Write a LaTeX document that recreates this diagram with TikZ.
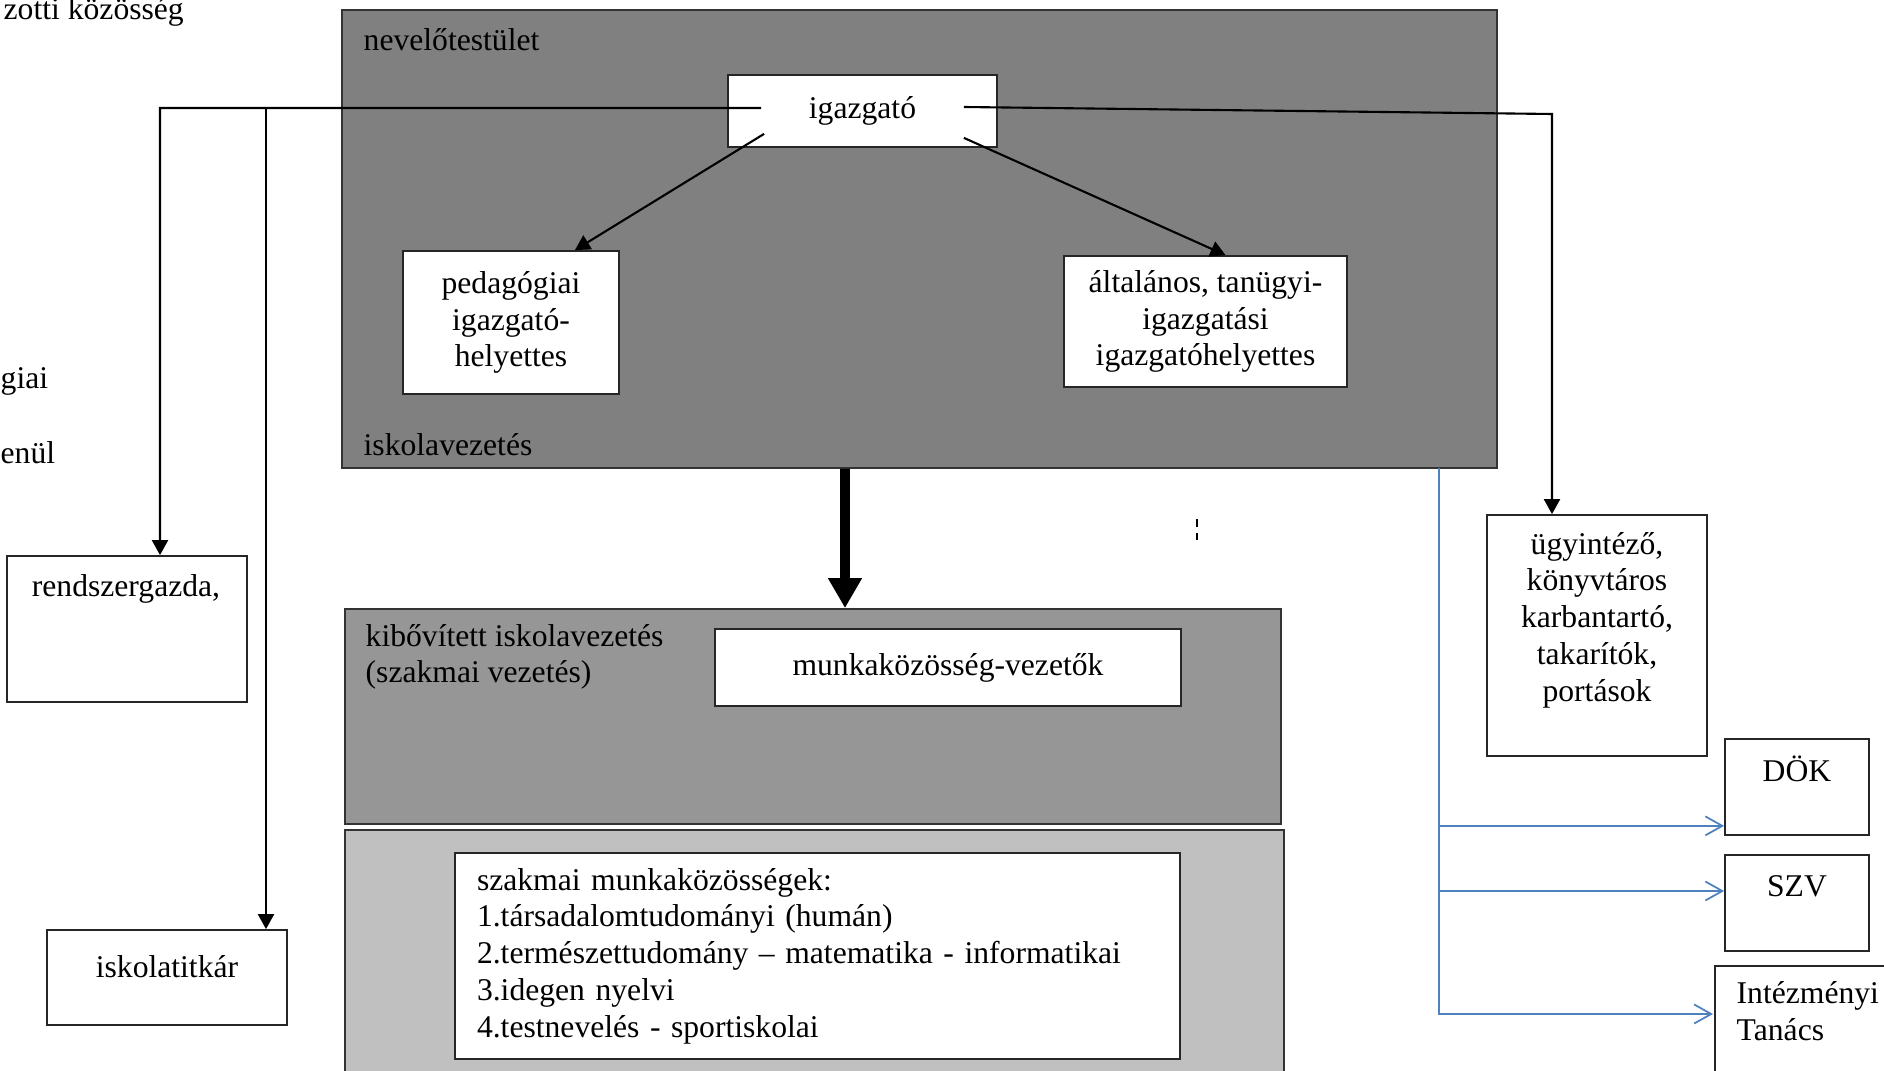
\documentclass[tikz,border=0pt]{standalone}
\usepackage{fontspec}
\setmainfont{Liberation Serif}
\usetikzlibrary{arrows.meta,positioning}
\definecolor{upperpanel}{HTML}{808080}
\definecolor{midpanel}{HTML}{969696}
\definecolor{lowpanel}{HTML}{C0C0C0}
\definecolor{lineblue}{HTML}{4F81BD}

\begin{document}
\begin{tikzpicture}[
        font=\fontsize{9}{10.45}\selectfont,
        x=1cm, y=1cm,
        panel/.style  ={draw=black!80, line width=0.5pt, inner sep=0pt},
        box/.style    ={draw=black!85, fill=white, line width=0.5pt, inner sep=0pt, align=center},
        lbl/.style    ={inner sep=0pt},
        arr/.style    ={-{Triangle[length=1.5mm,width=1.6mm]}, line width=0.6pt},
        bigarr/.style ={-{Triangle[length=3mm,width=3.2mm]}, line width=2.8pt},
        bluearr/.style={-{Straight Barb[length=1.7mm,width=1.9mm]}, draw=lineblue, line width=0.5pt},
    ]
    \useasboundingbox (0,0) rectangle (18.84,-10.71);

    %% Grey panels
    \node[panel, fill=upperpanel, minimum width=11.55cm, minimum height=4.58cm] (neveles) at (9.195,-2.39) {};
    \node[panel, fill=midpanel, minimum width=9.36cm, minimum height=2.15cm] (kibovitett) at (8.13,-7.165) {};
    \draw[draw=black!80, line width=0.5pt, fill=lowpanel] (3.45,-10.71) -- (3.45,-8.30) -- (12.84,-8.30) -- (12.84,-10.71);

    %% Panel labels
    \node[lbl, anchor=west] (nev-t) at (3.63,-0.40) {nevelőtestület};
    \node[lbl, anchor=west] (isk-t) at (3.63,-4.45) {iskolavezetés};
    \node[lbl, anchor=west, align=left] (kib-t) at (3.65,-6.57) {kibővített iskolavezetés\\(szakmai vezetés)};

    %% Cut-off texts on the left
    \node[lbl, anchor=base west] (koz-t) at (0.03,-0.20) {zotti közösség};
    \node[lbl, anchor=west] (giai-t) at (0,-3.81) {giai};
    \node[lbl, anchor=west] (enul-t) at (0,-4.53) {enül};

    %% Leadership
    \node[box, minimum width=2.69cm, minimum height=0.72cm] (igazgato) at (8.625,-1.11) {igazgató};
    \node[box, minimum width=2.16cm, minimum height=1.43cm] (pedhely) at (5.11,-3.225)
        {pedagógiai\\igazgató-\\helyettes};
    \node[box, minimum width=2.83cm, minimum height=1.31cm] (altalanos) at (12.055,-3.215)
        {általános, tanügyi-\\igazgatási\\igazgatóhelyettes};

    %% Professional management
    \node[box, minimum width=4.66cm, minimum height=0.77cm] (munka) at (9.48,-6.675) {munkaközösség-vezetők};
    \node[box, align=left, text width=6.81cm, inner xsep=0.22cm, minimum height=2.06cm] (szakmai) at (8.175,-9.56)
        {szakmai munkaközösségek:\\1.társadalomtudományi (humán)\\2.természettudomány -- matematika - informatikai\\3.idegen nyelvi\\4.testnevelés - sportiskolai};

    %% Staff on the left
    \node[box, minimum width=2.40cm, minimum height=1.46cm] (rendszer) at (1.27,-6.29) {};
    \node (rendszer-t) at (1.26,-5.89) {rendszergazda,};
    \node[box, minimum width=2.40cm, minimum height=0.95cm] (titkar) at (1.67,-9.775) {};
    \node (titkar-t) at (1.67,-9.67) {iskolatitkár};

    %% Staff and bodies on the right
    \node[box, minimum width=2.20cm, minimum height=2.41cm] (ugyintezo) at (15.97,-6.355) {};
    \node[align=center] (ugyintezo-t) at (15.97,-6.20)
        {ügyintéző,\\könyvtáros\\karbantartó,\\takarítók,\\portások};
    \node[box, minimum width=1.44cm, minimum height=0.96cm] (dok) at (17.97,-7.87) {};
    \node (dok-t) at (17.97,-7.69) {DÖK};
    \node[box, minimum width=1.44cm, minimum height=0.96cm] (szv) at (17.97,-9.03) {};
    \node (szv-t) at (17.97,-8.86) {SZV};
    \draw[draw=black!85, line width=0.5pt, fill=white] (17.15,-10.71) |- (18.84,-9.66);
    \node[lbl, anchor=west, align=left] (intezmenyi-t) at (17.36,-10.115) {Intézményi\\Tanács};

    %% Junctions
    \coordinate (jl) at (1.60,-1.08);
    \coordinate (jm) at (2.66,-1.08);
    \coordinate (jr) at (15.52,-1.14);
    \coordinate (bl) at (14.39,-4.68);
    \coordinate (dok-in) at ([yshift=1mm]dok.south west);
    \coordinate (szv-in) at ([yshift=1.2mm]szv.west);
    \coordinate (int-in) at (17.13,-10.14);

    %% Connectors
    \draw[arr] ([xshift=3.4mm,yshift=0.3mm]igazgato.west) -- (jl) -- (jl |- rendszer.north);
    \draw[arr] (jm) -- (jm |- titkar.north);
    \draw[arr] ([xshift=-3.4mm,yshift=0.4mm]igazgato.east) -- (jr) -- (jr |- ugyintezo.north);
    \draw[arr] ([shift={(0.37,0.14)}]igazgato.south west) -- ([xshift=-4.5mm]pedhely.north east);
    \draw[arr] ([shift={(-0.34,0.10)}]igazgato.south east) -- ([xshift=2mm]altalanos.north);
    \draw[bigarr] ([xshift=-7.45mm]neveles.south) -- ([xshift=3.2mm]kibovitett.north);

    %% Blue links
    \draw[bluearr] (bl) |- (int-in);
    \draw[bluearr] (bl |- dok-in) -- (dok-in);
    \draw[bluearr] (bl |- szv-in) -- (szv-in);

    %% Stray mark
    \draw[line width=0.7pt, dash pattern=on 0.8mm off 0.6mm] (11.97,-5.19) -- (11.97,-5.40);

\end{tikzpicture}
\end{document}
